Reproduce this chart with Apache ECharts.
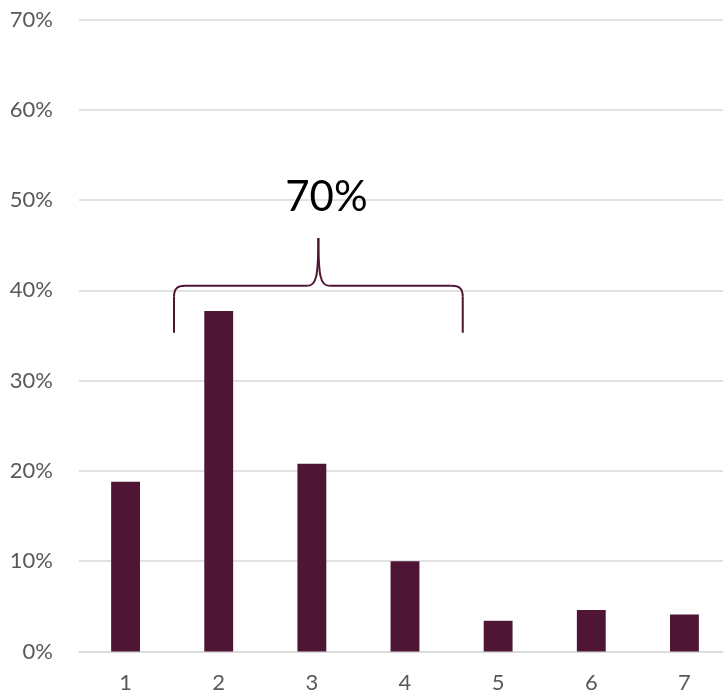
<!DOCTYPE html>
<html>
<head>
<meta charset="utf-8">
<script src="https://cdn.jsdelivr.net/npm/echarts@6/dist/echarts.min.js"></script>
<style>
  html, body { margin: 0; padding: 0; background: #ffffff; overflow: hidden; }
  /* plot area runs slightly past the right edge of the window */
  #chart { width: 731px; height: 695px; }
</style>
</head>
<body>
<div id="chart"></div>
<script>
// Categories along the x axis
const categories = ['1', '2', '3', '4', '5', '6', '7'];
// Share of responses per category (percent)
const shares = [18.8, 37.7, 20.8, 10.0, 3.4, 4.6, 4.1];
// Y axis ticks (percent)
const yTicks = [0, 10, 20, 30, 40, 50, 60, 70];
// Bracket annotation: first and last category covered, and its label
const bracketFrom = '2';
const bracketTo = '4';
const bracketLabel = '70%';

const barColor = '#4e1534';
const textFont = 'Lato, "Open Sans", sans-serif';

const chart = echarts.init(document.getElementById('chart'), null, { renderer: 'canvas' });

chart.setOption({
  animation: false,
  backgroundColor: '#ffffff',
  grid: { left: 79, right: 0, top: 19.5, bottom: 43.5, containLabel: false },
  xAxis: {
    type: 'category',
    data: categories,
    axisLine: { show: true, lineStyle: { color: '#d9d9d9', width: 1.5 } },
    axisTick: { show: false },
    axisLabel: { color: '#595959', fontSize: 22, fontFamily: textFont, margin: 20 }
  },
  yAxis: {
    type: 'value',
    min: yTicks[0],
    max: yTicks[yTicks.length - 1],
    interval: 10,
    axisLine: { show: false },
    axisTick: { show: false },
    splitLine: { lineStyle: { color: '#d9d9d9', width: 1.5 } },
    axisLabel: {
      color: '#595959', fontSize: 22, fontFamily: textFont, margin: 26,
      formatter: v => v + '%'
    }
  },
  series: [{
    type: 'bar',
    data: shares,
    barWidth: '31%',
    itemStyle: { color: barColor }
  }]
});

// Curly bracket spanning a range of categories, with its label above
function drawBracket() {
  const i0 = categories.indexOf(bracketFrom);
  const i1 = categories.indexOf(bracketTo);
  const c0 = chart.convertToPixel({ gridIndex: 0 }, [0, 0]);
  const c1 = chart.convertToPixel({ gridIndex: 0 }, [1, 0]);
  const step = c1[0] - c0[0];
  const yPx = v => chart.convertToPixel({ gridIndex: 0 }, [0, v])[1];

  const xL = c0[0] + (i0 - 0.48) * step;
  const xR = c0[0] + (i1 + 0.62) * step;
  const xM = (xL + xR) / 2;
  const yLeg = yPx(35.3);
  const yBar = yPx(40.5);
  const yTip = yPx(45.8);
  const r = 11;

  const stroke = { fill: 'none', stroke: barColor, lineWidth: 2 };
  const seg = (x1, y1, x2, y2) => ({
    type: 'line', shape: { x1, y1, x2, y2 }, style: stroke, z: 10
  });
  const curve = (x1, y1, cpx1, cpy1, cpx2, cpy2, x2, y2) => ({
    type: 'bezierCurve', shape: { x1, y1, cpx1, cpy1, cpx2, cpy2, x2, y2 }, style: stroke, z: 10
  });

  chart.setOption({
    graphic: [
      seg(xL, yLeg, xL, yBar + r),
      curve(xL, yBar + r, xL, yBar + 3, xL + 3, yBar, xL + r, yBar),
      seg(xL + r, yBar, xM - 11, yBar),
      curve(xM - 11, yBar, xM - 2, yBar, xM, yBar - 10, xM, yTip),
      curve(xM + 11, yBar, xM + 2, yBar, xM, yBar - 10, xM, yTip),
      seg(xM + 11, yBar, xR - r, yBar),
      curve(xR - r, yBar, xR - 3, yBar, xR, yBar + 3, xR, yBar + r),
      seg(xR, yBar + r, xR, yLeg),
      {
        type: 'text',
        x: xM + 8,
        y: yPx(50.3),
        style: {
          text: bracketLabel,
          fill: '#000000',
          font: '42px ' + textFont,
          textAlign: 'center',
          textVerticalAlign: 'middle'
        },
        z: 10
      }
    ]
  });
}
drawBracket();
</script>
</body>
</html>
